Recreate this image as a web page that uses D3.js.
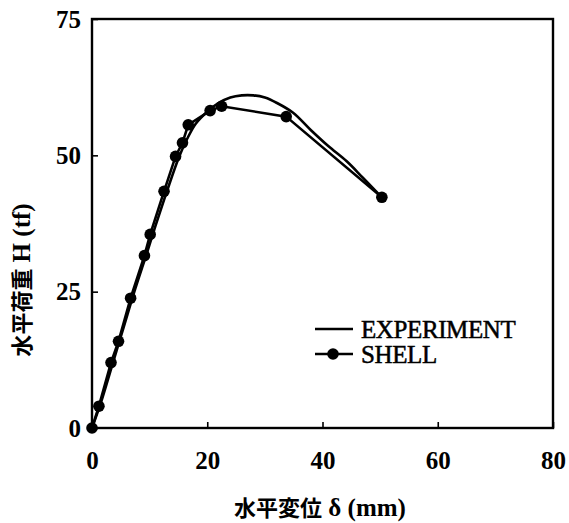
<!DOCTYPE html>
<html>
<head>
  <meta charset="utf-8">
  <title>load-displacement</title>
  <script src="https://d3js.org/d3.v7.min.js"></script>
  <style>
    body { margin: 0; background: #fff; }
  </style>
</head>
<body>
  <svg width="569" height="523" id="mainsvg"></svg>
  <script>
    // 数据：水平変位 δ (mm) 与 水平荷重 H (tf)
    const shellX = [0, 1.2, 3.3, 4.6, 6.7, 9.1, 10.1, 12.5, 14.5, 15.7, 16.7, 20.5, 22.5, 33.7, 50.3];
    const shellY = [0, 4.0, 12.0, 15.9, 23.8, 31.6, 35.5, 43.4, 49.8, 52.3, 55.6, 58.2, 59.0, 57.1, 42.3];

    const expX = [0, 1.5, 3.5, 5.5, 7.5, 9.5, 11.0, 13.0, 15.1, 16.5, 18.0, 20.0, 22.0, 24.0, 26.0, 28.0, 30.0, 32.1, 34.9, 38.0, 41.0, 44.2, 47.0, 50.3];
    const expY = [0, 4.5, 11.5, 18.5, 25.5, 32.0, 37.0, 43.4, 49.7, 53.0, 55.8, 58.0, 59.6, 60.6, 61.0, 61.0, 60.6, 59.6, 57.8, 54.6, 51.7, 48.9, 45.9, 42.3];

    const xTicks = [0, 20, 40, 60, 80];
    const yTicks = [0, 25, 50, 75];
    const legendNames = ['EXPERIMENT', 'SHELL'];

    const svg = d3.select('#mainsvg');
    const mLeft = 92, mRight = 553, mTop = 19, mBottom = 428;

    const x = d3.scaleLinear().domain([0, 80]).range([mLeft, mRight]);
    const y = d3.scaleLinear().domain([0, 75]).range([mBottom, mTop]);

    const serif = '"Liberation Serif", "Times New Roman", serif';
    const cjk = '"Noto Sans CJK JP", "Noto Sans CJK SC", sans-serif';

    // 坐标轴（刻度向内）
    const xAxis = svg.append('g')
      .attr('transform', `translate(0,${mBottom})`)
      .call(d3.axisBottom(x).tickValues(xTicks).tickSize(-6).tickPadding(33).tickFormat(d3.format('d')));
    const yAxis = svg.append('g')
      .attr('transform', `translate(${mLeft},0)`)
      .call(d3.axisLeft(y).tickValues(yTicks).tickSize(-6).tickPadding(11).tickFormat(d3.format('d')));

    [xAxis, yAxis].forEach(g => {
      g.select('.domain').remove();
      g.selectAll('line').attr('stroke', '#000').attr('stroke-width', 1.6);
      g.selectAll('text')
        .attr('fill', '#000')
        .style('font-family', serif)
        .style('font-weight', 'bold')
        .style('font-size', '25px');
    });
    xAxis.selectAll('text').attr('dy', '0.32em');

    // 外框
    svg.append('rect')
      .attr('x', mLeft).attr('y', mTop)
      .attr('width', mRight - mLeft).attr('height', mBottom - mTop)
      .attr('fill', 'none').attr('stroke', '#000').attr('stroke-width', 2.4);

    // 曲线
    const expData = expX.map((v, i) => [v, expY[i]]);
    const shellData = shellX.map((v, i) => [v, shellY[i]]);

    svg.append('path')
      .datum(expData)
      .attr('d', d3.line().x(d => x(d[0])).y(d => y(d[1])).curve(d3.curveCatmullRom))
      .attr('fill', 'none').attr('stroke', '#000').attr('stroke-width', 2.6);

    svg.append('path')
      .datum(shellData)
      .attr('d', d3.line().x(d => x(d[0])).y(d => y(d[1])))
      .attr('fill', 'none').attr('stroke', '#000').attr('stroke-width', 2.6);

    svg.selectAll('circle.pt').data(shellData)
      .enter().append('circle')
      .attr('class', 'pt')
      .attr('cx', d => x(d[0]))
      .attr('cy', d => y(d[1]))
      .attr('r', 5.8)
      .attr('fill', '#000');

    // 图例
    const lg = svg.append('g');
    legendNames.forEach((name, i) => {
      const ly = 329 + i * 25;
      lg.append('line')
        .attr('x1', 315).attr('x2', 353).attr('y1', ly).attr('y2', ly)
        .attr('stroke', '#000').attr('stroke-width', 2.4);
      if (name === 'SHELL') {
        lg.append('circle').attr('cx', 333).attr('cy', ly).attr('r', 5.8).attr('fill', '#000');
      }
      lg.append('text')
        .attr('x', 361).attr('y', ly + 9)
        .style('font-family', serif)
        .style('font-size', '25px')
        .style('letter-spacing', '-0.4px')
        .attr('fill', '#000')
        .attr('stroke', '#000').attr('stroke-width', 0.5)
        .text(name);
    });

    // 轴标题
    const xt = svg.append('text')
      .attr('x', 320).attr('y', 516)
      .attr('text-anchor', 'middle')
      .attr('fill', '#000');
    xt.append('tspan').style('font-family', cjk).style('font-weight', 'bold').style('font-size', '22px').text('水平変位');
    xt.append('tspan').style('font-family', serif).style('font-weight', 'bold').style('font-size', '25px').text(' δ (mm)');

    const yt = svg.append('text')
      .attr('transform', 'translate(30,280) rotate(-90)')
      .attr('text-anchor', 'middle')
      .attr('fill', '#000');
    yt.append('tspan').style('font-family', cjk).style('font-weight', 'bold').style('font-size', '22px').text('水平荷重');
    yt.append('tspan').style('font-family', serif).style('font-weight', 'bold').style('font-size', '25px').text(' H (tf)');
  </script>
</body>
</html>
